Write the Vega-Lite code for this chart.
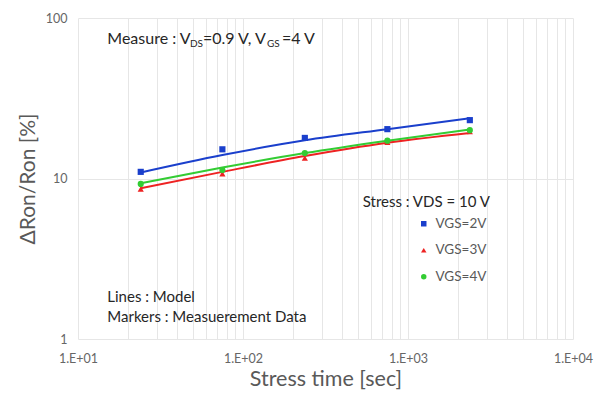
{
  "$schema": "https://vega.github.io/schema/vega-lite/v6.json",
  "width": 495,
  "height": 321,
  "autosize": {"type": "none"},
  "padding": {"left": 78, "top": 18, "right": 22, "bottom": 55},
  "background": "white",
  "config": {"view": {"stroke": null}, "font": "Lato, 'Open Sans', 'DejaVu Sans'"},
  "datasets": {
    "model": [
      {"t": 24, "r": 10.9, "s": "VGS=2V"}, {"t": 75, "r": 14.0, "s": "VGS=2V"}, {"t": 237, "r": 17.3, "s": "VGS=2V"}, {"t": 750, "r": 20.3, "s": "VGS=2V"}, {"t": 2370, "r": 23.7, "s": "VGS=2V"},
      {"t": 24, "r": 8.69, "s": "VGS=3V"}, {"t": 75, "r": 11.0, "s": "VGS=3V"}, {"t": 237, "r": 13.8, "s": "VGS=3V"}, {"t": 750, "r": 16.7, "s": "VGS=3V"}, {"t": 2370, "r": 19.2, "s": "VGS=3V"},
      {"t": 24, "r": 9.33, "s": "VGS=4V"}, {"t": 75, "r": 11.7, "s": "VGS=4V"}, {"t": 237, "r": 14.4, "s": "VGS=4V"}, {"t": 750, "r": 17.2, "s": "VGS=4V"}, {"t": 2370, "r": 20.2, "s": "VGS=4V"}
    ],
    "meas": [
      {"t": 24, "r": 11.0, "s": "VGS=2V"}, {"t": 75, "r": 15.2, "s": "VGS=2V"}, {"t": 237, "r": 17.9, "s": "VGS=2V"}, {"t": 750, "r": 20.3, "s": "VGS=2V"}, {"t": 2370, "r": 23.1, "s": "VGS=2V"},
      {"t": 24, "r": 8.6, "s": "VGS=3V"}, {"t": 75, "r": 10.7, "s": "VGS=3V"}, {"t": 237, "r": 13.4, "s": "VGS=3V"}, {"t": 750, "r": 16.8, "s": "VGS=3V"}, {"t": 2370, "r": 19.6, "s": "VGS=3V"},
      {"t": 24, "r": 9.25, "s": "VGS=4V"}, {"t": 75, "r": 11.3, "s": "VGS=4V"}, {"t": 237, "r": 14.4, "s": "VGS=4V"}, {"t": 750, "r": 17.2, "s": "VGS=4V"}, {"t": 2370, "r": 20.0, "s": "VGS=4V"}
    ],
    "measure": [
      {"t": 15.05, "r": 68.6, "txt": "Measure : V"},
      {"t": 57.2, "r": 68.6, "txt": "=0.9 V, V"},
      {"t": 172.3, "r": 68.6, "txt": "=4 V"}
    ],
    "notes": [
      {"t": 15.05, "r": 1.708, "txt": "Lines : Model"},
      {"t": 15.05, "r": 1.282, "txt": "Markers : Measuerement Data"},
      {"t": 531.6, "r": 6.67, "txt": "Stress : VDS = 10 V"}
    ],
    "subs": [
      {"t": 47.7, "r": 66.4, "txt": "DS"},
      {"t": 139.8, "r": 66.4, "txt": "GS"}
    ]
  },
  "encoding": {
    "x": {
      "field": "t", "type": "quantitative",
      "scale": {"type": "log", "domain": [10, 10000], "nice": false},
      "axis": {
        "values": [10, 20, 30, 40, 50, 60, 70, 80, 90, 100, 200, 300, 400, 500, 600, 700, 800, 900, 1000, 2000, 3000, 4000, 5000, 6000, 7000, 8000, 9000, 10000],
        "labelExpr": "datum.value == 10 ? '1.E+01' : datum.value == 100 ? '1.E+02' : datum.value == 1000 ? '1.E+03' : datum.value == 10000 ? '1.E+04' : ''",
        "labelOverlap": false, "labelFlush": false,
        "grid": true, "gridColor": "#e6e6e6", "gridWidth": 1,
        "domain": false, "ticks": false,
        "labelFontSize": 12.5, "labelColor": "#666666", "labelPadding": 13,
        "title": "Stress time [sec]", "titleFontSize": 21.5, "titleFontWeight": "normal", "titleColor": "#595959", "titlePadding": 4
      }
    },
    "y": {
      "field": "r", "type": "quantitative",
      "scale": {"type": "log", "domain": [1, 100], "nice": false},
      "axis": {
        "values": [1, 10, 100], "format": "d",
        "grid": true, "gridColor": "#e6e6e6", "gridWidth": 1,
        "domain": false, "ticks": false,
        "labelFontSize": 12.5, "labelColor": "#666666", "labelPadding": 11,
        "title": "ΔRon/Ron [%]", "titleFontSize": 21, "titleFontWeight": "normal", "titleColor": "#595959", "titlePadding": 7
      }
    }
  },
  "layer": [
    {
      "data": {"name": "model"},
      "transform": [{"filter": "datum.s == 'VGS=2V'"}],
      "mark": {"type": "line", "interpolate": "monotone", "strokeWidth": 2, "color": "#1a3fcc"},
      "encoding": {}
    },
    {
      "data": {"name": "model"},
      "transform": [{"filter": "datum.s == 'VGS=3V'"}],
      "mark": {"type": "line", "interpolate": "monotone", "strokeWidth": 2, "color": "#ee2222"},
      "encoding": {}
    },
    {
      "data": {"name": "model"},
      "transform": [{"filter": "datum.s == 'VGS=4V'"}],
      "mark": {"type": "line", "interpolate": "monotone", "strokeWidth": 2, "color": "#33cc33"},
      "encoding": {}
    },
    {
      "data": {"name": "meas"},
      "mark": {"type": "point", "filled": true, "opacity": 1, "size": 38},
      "encoding": {
        "color": {"field": "s", "type": "nominal",
          "scale": {"domain": ["VGS=2V", "VGS=3V", "VGS=4V"], "range": ["#1a3fcc", "#ee2222", "#33cc33"]},
          "legend": {"title": null, "orient": "none", "legendX": 339, "legendY": 199, "labelFontSize": 13.5, "labelColor": "#595959", "symbolSize": 30, "rowPadding": 11.5, "labelOffset": 5}},
        "shape": {"field": "s", "type": "nominal",
          "scale": {"domain": ["VGS=2V", "VGS=3V", "VGS=4V"], "range": ["square", "triangle-up", "circle"]},
          "legend": {"title": null, "orient": "none", "legendX": 339, "legendY": 199, "labelFontSize": 13.5, "labelColor": "#595959", "symbolSize": 30, "rowPadding": 11.5, "labelOffset": 5}}
      }
    },
    {
      "data": {"name": "measure"},
      "mark": {"type": "text", "align": "left", "baseline": "alphabetic", "fontSize": 16, "color": "#262626"},
      "encoding": {"text": {"field": "txt"}}
    },
    {
      "data": {"name": "notes"},
      "mark": {"type": "text", "align": "left", "baseline": "alphabetic", "fontSize": 15, "color": "#262626"},
      "encoding": {"text": {"field": "txt"}}
    },
    {
      "data": {"name": "subs"},
      "mark": {"type": "text", "align": "left", "baseline": "alphabetic", "fontSize": 10, "color": "#262626"},
      "encoding": {"text": {"field": "txt"}}
    }
  ]
}
